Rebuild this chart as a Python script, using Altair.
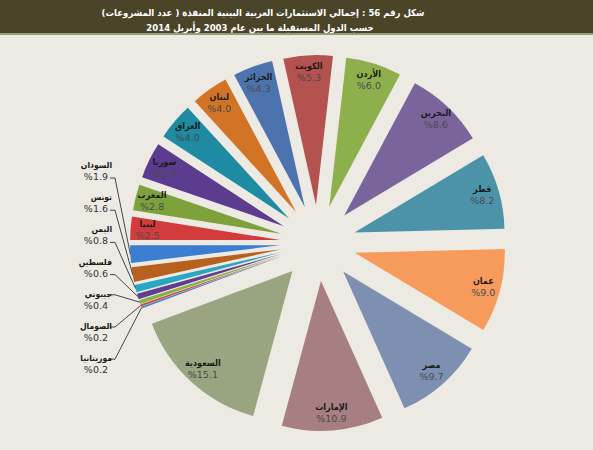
import altair as alt
import pandas as pd

# ---- data ----
countries = ["موريتانيا", "الصومال", "جيبوتي", "فلسطين", "اليمن", "تونس", "السودان",
             "ليبيا", "المغرب", "سوريا", "العراق", "لبنان", "الجزائر", "الكويت",
             "الأردن", "البحرين", "قطر", "عمان", "مصر", "الإمارات", "السعودية"]
shares = [0.2, 0.2, 0.4, 0.6, 0.8, 1.6, 1.9,
          2.5, 2.8, 3.9, 4.0, 4.0, 4.3, 5.3,
          6.0, 8.6, 8.2, 9.0, 9.7, 10.9, 15.1]
palette = ["#4F81BD", "#C0504D", "#8BB046", "#5F3E92", "#2AA5C2", "#B8601E", "#3B7DD0",
           "#D23C3C", "#7DA23C", "#5C3C8E", "#1E8BA3", "#D27426", "#4D73AE", "#B45250",
           "#8DB04D", "#7A649C", "#4C93AA", "#F69B5C", "#7D90B2", "#A77E82", "#98A580"]
title_lines = ["شكل رقم 56 :  إجمالي الاستثمارات العربية البينية المنفذة ( عدد المشروعات)",
               "حسب الدول المستقبلة ما بين عام 2003 وأبريل 2014"]

df = pd.DataFrame({
    "country": countries,
    "share": shares,
    "idx": list(range(len(countries))),
    "pct": [f"%{v:.1f}" for v in shares],
})

FONT = "DejaVu Sans"
TFONT = "DejaVu Sans Condensed"
CX, CY = 318, 243
R = 150
EXPLODE = 38
START = 4.3546  # radians, start angle of first slice

base = (
    alt.Chart(df)
    .transform_joinaggregate(total="sum(share)")
    .transform_window(cum="sum(share)", sort=[alt.SortField("idx")])
    .transform_calculate(
        a0=f"{START} + 2*PI*(datum.cum - datum.share)/datum.total",
        a1=f"{START} + 2*PI*datum.cum/datum.total",
    )
    .transform_calculate(mid="(datum.a0 + datum.a1)/2")
    .transform_calculate(
        cx=f"{CX} + {EXPLODE}*sin(datum.mid)",
        cy=f"{CY} - {EXPLODE}*cos(datum.mid)",
        lx=f"{CX} + {EXPLODE + 133}*sin(datum.mid)",
        ly=f"{CY} - {EXPLODE + 133}*cos(datum.mid)",
        ex=f"{CX} + {EXPLODE + R}*sin(datum.mid)",
        ey=f"{CY} - {EXPLODE + R}*cos(datum.mid)",
    )
)

arcs = base.mark_arc(radius=R).encode(
    x=alt.X("cx:Q", scale=None),
    y=alt.Y("cy:Q", scale=None),
    theta=alt.Theta("a0:Q", scale=None),
    theta2="a1:Q",
    color=alt.Color("country:N", scale=alt.Scale(domain=countries, range=palette), legend=None),
)

inside = base.transform_filter("datum.share >= 2")
in_name = inside.mark_text(font=TFONT, fontSize=9, fontWeight="bold", color="#1a1a1a", dy=-6).encode(
    x=alt.X("lx:Q", scale=None), y=alt.Y("ly:Q", scale=None), text="country:N")
in_pct = inside.mark_text(font=FONT, fontSize=9.5, color="#4a4a4a", dy=6).encode(
    x=alt.X("lx:Q", scale=None), y=alt.Y("ly:Q", scale=None), text="pct:N")

outside = (
    base.transform_filter("datum.share < 2")
    .transform_calculate(ny="165 + 32.2*(6 - datum.idx)")
    .transform_calculate(
        py="datum.ny + 12",
        sy="datum.idx >= 3 ? datum.ny + 13 : datum.ny + 1",
        nx="112", px="108", sx="110", kx="115",
    )
)
out_name = outside.mark_text(font=TFONT, fontSize=8.5, fontWeight="bold", color="#1a1a1a", align="right").encode(
    x=alt.X("nx:Q", scale=None), y=alt.Y("ny:Q", scale=None), text="country:N")
out_pct = outside.mark_text(font=FONT, fontSize=9.5, color="#333333", align="right").encode(
    x=alt.X("px:Q", scale=None), y=alt.Y("py:Q", scale=None), text="pct:N")
lead_h = outside.mark_rule(color="#333333", strokeWidth=0.9).encode(
    x=alt.X("sx:Q", scale=None), x2="kx:Q", y=alt.Y("sy:Q", scale=None), y2="sy:Q")
lead_d = outside.mark_rule(color="#333333", strokeWidth=0.9).encode(
    x=alt.X("kx:Q", scale=None), x2="ex:Q", y=alt.Y("sy:Q", scale=None), y2="ey:Q")

one = pd.DataFrame({"k": [0]})
header = alt.Chart(one).mark_rect(color="#4A4429").encode(
    x=alt.value(0), x2=alt.value(593), y=alt.value(0), y2=alt.value(33))
header_line = alt.Chart(one).mark_rect(color="#9A987C").encode(
    x=alt.value(0), x2=alt.value(593), y=alt.value(33), y2=alt.value(35))
t1 = alt.Chart(one).mark_text(font=TFONT, fontSize=9.5, fontWeight="bold", color="white").encode(
    x=alt.value(263), y=alt.value(13), text=alt.value(title_lines[0]))
t2 = alt.Chart(one).mark_text(font=TFONT, fontSize=9.5, fontWeight="bold", color="white").encode(
    x=alt.value(260), y=alt.value(28), text=alt.value(title_lines[1]))

chart = alt.layer(
    header, header_line, t1, t2, arcs, in_name, in_pct, lead_h, lead_d, out_name, out_pct
).properties(
    width=593, height=450, padding=0, autosize=alt.AutoSizeParams(type="none"),
    background="#ECEAE3",
).configure_view(stroke=None)

chart.save("out.html", embed_options={"renderer": "svg", "actions": False})
